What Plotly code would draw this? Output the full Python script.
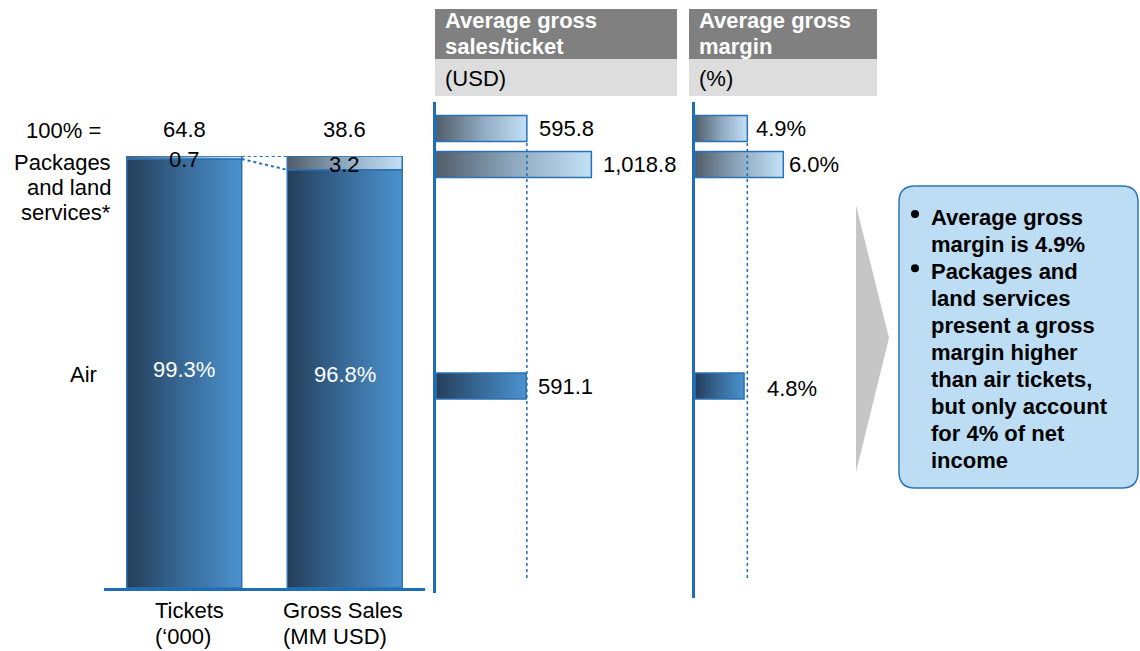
import plotly.graph_objects as go

# ---------------------------------------------------------------- data
BAR_CATEGORIES = ["Tickets", "Gross Sales"]
BAR_UNITS = ["(\u2018000)", "(MM USD)"]
BAR_TOTALS = [64.8, 38.6]
AIR_SHARE = [99.3, 96.8]          # % of total
PACKAGE_SHARE = [0.7, 3.2]        # % of total

ROW_LABELS = [["100% ="], ["Packages", "and land", "services*"], ["Air"]]

SALES_PER_TICKET = [595.8, 1018.8, 591.1]     # total, packages, air (USD)
SALES_TEXT = ["595.8", "1,018.8", "591.1"]
GROSS_MARGIN = [4.9, 6.0, 4.8]                # total, packages, air (%)
MARGIN_TEXT = ["4.9%", "6.0%", "4.8%"]

PANEL_TITLES = [["Average gross", "sales/ticket"], ["Average gross", "margin"]]
PANEL_UNITS = ["(USD)", "(%)"]

TAKEAWAYS = [
    (True, "Average gross"), (False, "margin is 4.9%"),
    (True, "Packages and"), (False, "land services"),
    (False, "present a gross"), (False, "margin higher"),
    (False, "than air tickets,"), (False, "but only account"),
    (False, "for 4% of net"), (False, "income"),
]

# ---------------------------------------------------------------- style / layout
W, H = 1140, 651
FONT = "Liberation Sans, Arial, sans-serif"
FS = 22
BLUE = "#1F6DB5"
OUTLINE = "#2A72B5"
AIR_SCALE = [[0, "#243E5A"], [0.5, "#386A98"], [1, "#4B92CE"]]
PKG_SCALE = [[0, "#515D69"], [0.5, "#8EA8BF"], [1, "#C3E1F6"]]

ROW_Y = [128.5, 164.5, 386]      # vertical centres of the horizontal bar rows (px)
ROW_HALF = 13
BAR_HALF_W = 0.358
SALES_PX_PER_USD = 0.1525
MARGIN_PX_PER_PT = 32.7
MARGIN_AXIS_MIN = 3.3
MARGIN_LABEL_SHIFT = [7, 4, 21]

fig = go.Figure()


def grad_box(x0, x1, y0, y1, xa, ya, scale):
    fig.add_trace(go.Scatter(
        x=[x0, x1, x1, x0, x0], y=[y0, y0, y1, y1, y0],
        xaxis=xa, yaxis=ya, mode="lines", fill="toself",
        fillgradient=dict(type="horizontal", colorscale=scale),
        line=dict(color=OUTLINE, width=1.5),
        hoverinfo="skip", showlegend=False))


def px_text(x, y, text, anchor="left", bold=False, color="black", size=FS):
    if bold:
        text = "<b>" + text + "</b>"
    fig.add_annotation(xref="x4", yref="y4", x=x, y=y, text=text,
                       showarrow=False, xanchor=anchor, yanchor="middle",
                       font=dict(family=FONT, size=size, color=color))


# ---------------------------------------------------------------- stacked 100% bars
for i in range(len(BAR_CATEGORIES)):
    grad_box(i - BAR_HALF_W, i + BAR_HALF_W, 0, AIR_SHARE[i], "x", "y", AIR_SCALE)
    grad_box(i - BAR_HALF_W, i + BAR_HALF_W, AIR_SHARE[i],
             AIR_SHARE[i] + PACKAGE_SHARE[i], "x", "y", PKG_SCALE)
    fig.add_annotation(xref="x", yref="y", x=i, y=100, yshift=26,
                       text=f"{BAR_TOTALS[i]:.1f}", showarrow=False,
                       font=dict(family=FONT, size=FS, color="black"))
    fig.add_annotation(xref="x", yref="y", x=i,
                       y=AIR_SHARE[i] + PACKAGE_SHARE[i] / 2, yshift=-2,
                       text=f"{PACKAGE_SHARE[i]:.1f}", showarrow=False,
                       font=dict(family=FONT, size=FS, color="black"))
    fig.add_annotation(xref="x", yref="y", x=i, y=AIR_SHARE[i] / 2, yshift=4,
                       text=f"{AIR_SHARE[i]:.1f}%", showarrow=False,
                       font=dict(family=FONT, size=FS, color="white"))

# dotted connectors between the package segments
for ya, yb in [(AIR_SHARE[0] + PACKAGE_SHARE[0], AIR_SHARE[1] + PACKAGE_SHARE[1]),
               (AIR_SHARE[0], AIR_SHARE[1])]:
    fig.add_trace(go.Scatter(x=[BAR_HALF_W, 1 - BAR_HALF_W], y=[ya, yb],
                             xaxis="x", yaxis="y", mode="lines",
                             line=dict(color=BLUE, width=2, dash="dot"),
                             hoverinfo="skip", showlegend=False))

# ---------------------------------------------------------------- horizontal bars
row_scales = [PKG_SCALE, PKG_SCALE, AIR_SCALE]
for r in range(3):
    grad_box(0, SALES_PER_TICKET[r], ROW_Y[r] - ROW_HALF, ROW_Y[r] + ROW_HALF,
             "x2", "y2", row_scales[r])
    fig.add_annotation(xref="x2", yref="y2", x=SALES_PER_TICKET[r], y=ROW_Y[r],
                       xanchor="left", xshift=10, text=SALES_TEXT[r],
                       showarrow=False, font=dict(family=FONT, size=FS, color="black"))
    grad_box(MARGIN_AXIS_MIN, GROSS_MARGIN[r], ROW_Y[r] - ROW_HALF,
             ROW_Y[r] + ROW_HALF, "x3", "y3", row_scales[r])
    fig.add_annotation(xref="x3", yref="y3", x=GROSS_MARGIN[r],
                       y=ROW_Y[r] + (2 if r == 2 else 0),
                       xanchor="left", xshift=MARGIN_LABEL_SHIFT[r], text=MARGIN_TEXT[r],
                       showarrow=False, font=dict(family=FONT, size=FS, color="black"))

# dotted reference lines at the overall averages
for xa, ya, v, y1 in [("x2", "y2", SALES_PER_TICKET[0], 578),
                      ("x3", "y3", GROSS_MARGIN[0], 581)]:
    fig.add_trace(go.Scatter(x=[v, v], y=[143, y1], xaxis=xa, yaxis=ya, mode="lines",
                             line=dict(color=BLUE, width=1.5, dash="dot"),
                             hoverinfo="skip", showlegend=False))

# invisible trace to anchor the pixel overlay axes
fig.add_trace(go.Scatter(x=[0], y=[0], xaxis="x4", yaxis="y4", mode="markers",
                         marker=dict(opacity=0), hoverinfo="skip", showlegend=False))

# ---------------------------------------------------------------- text in pixel space
px_text(103, 130, ROW_LABELS[0][0], anchor="right")
for k, line in enumerate(ROW_LABELS[1]):
    px_text(113, 162 + 25 * k, line, anchor="right")
px_text(99, 374, ROW_LABELS[2][0], anchor="right")

for x0, cat, unit in zip([153, 281], BAR_CATEGORIES, BAR_UNITS):
    px_text(x0, 610, cat)
    px_text(x0, 636, unit)

shapes = []
for (x0, x1), title, unit in zip([(435, 677), (689, 877)], PANEL_TITLES, PANEL_UNITS):
    shapes.append(dict(type="rect", xref="x4", yref="y4", x0=x0, x1=x1, y0=9, y1=59,
                       fillcolor="#808080", line=dict(width=0), layer="below"))
    shapes.append(dict(type="rect", xref="x4", yref="y4", x0=x0, x1=x1, y0=59, y1=96,
                       fillcolor="#DDDDDD", line=dict(width=0), layer="below"))
    px_text(x0 + 8, 20, title[0], bold=True, color="white")
    px_text(x0 + 8, 46, title[1], bold=True, color="white")
    px_text(x0 + 8, 78, unit)

# chevron
shapes.append(dict(type="path", xref="x4", yref="y4",
                   path="M 856,205 L 889,338 L 856,472 Z",
                   fillcolor="#C6C6C6", line=dict(width=0)))

# rounded call-out box
bx0, bx1, by0, by1, rr = 899, 1138, 186, 488, 16
shapes.append(dict(
    type="path", xref="x4", yref="y4",
    path=(f"M {bx0 + rr},{by0} L {bx1 - rr},{by0} Q {bx1},{by0} {bx1},{by0 + rr} "
          f"L {bx1},{by1 - rr} Q {bx1},{by1} {bx1 - rr},{by1} "
          f"L {bx0 + rr},{by1} Q {bx0},{by1} {bx0},{by1 - rr} "
          f"L {bx0},{by0 + rr} Q {bx0},{by0} {bx0 + rr},{by0} Z"),
    fillcolor="#BDDDF4", line=dict(color="#2E75B6", width=1.5)))

for k, (bullet, line) in enumerate(TAKEAWAYS):
    y = 217 + 27.1 * k
    if bullet:
        shapes.append(dict(type="circle", xref="x4", yref="y4",
                           x0=911, x1=919, y0=y - 7, y1=y + 1,
                           fillcolor="black", line=dict(width=0)))
    px_text(929, y, line, bold=True)

# ---------------------------------------------------------------- layout
hidden = dict(showgrid=False, zeroline=False, showticklabels=False, ticks="",
              fixedrange=True)
fig.update_layout(
    width=W, height=H, margin=dict(l=0, r=0, t=0, b=0),
    paper_bgcolor="white", plot_bgcolor="rgba(0,0,0,0)",
    showlegend=False, font=dict(family=FONT, size=FS, color="black"),
    xaxis=dict(domain=[104 / W, 425 / W], range=[-0.5, 1.5], anchor="y",
               showline=True, linecolor=BLUE, linewidth=3, **hidden),
    yaxis=dict(domain=[1 - 588 / H, 1 - 156 / H], range=[0, 100], anchor="x",
               visible=False),
    xaxis2=dict(domain=[436 / W, 677 / W], range=[0, 241 / SALES_PX_PER_USD],
                anchor="y2", visible=False),
    yaxis2=dict(domain=[1 - 593 / H, 1 - 102 / H], range=[593, 102], anchor="x2",
                showline=True, linecolor=BLUE, linewidth=3, **hidden),
    xaxis3=dict(domain=[695 / W, 877 / W],
                range=[MARGIN_AXIS_MIN, MARGIN_AXIS_MIN + 182 / MARGIN_PX_PER_PT],
                anchor="y3", visible=False),
    yaxis3=dict(domain=[1 - 598 / H, 1 - 102 / H], range=[598, 102], anchor="x3",
                showline=True, linecolor=BLUE, linewidth=3, **hidden),
    xaxis4=dict(domain=[0, 1], range=[0, W], anchor="y4", visible=False),
    yaxis4=dict(domain=[0, 1], range=[H, 0], anchor="x4", visible=False),
    shapes=shapes,
)

fig.write_html("out.html", config={"displayModeBar": False})
